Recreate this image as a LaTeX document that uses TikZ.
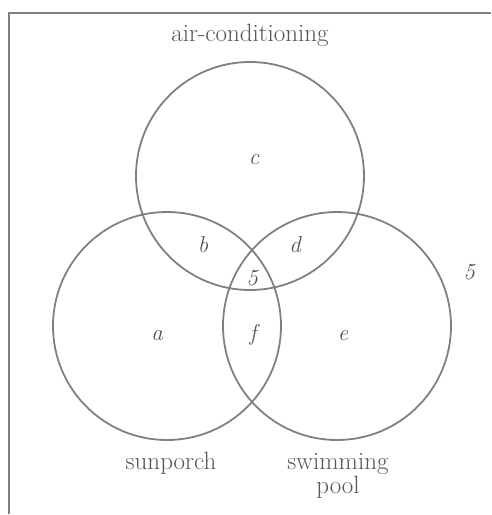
\documentclass[tikz,border=0pt]{standalone}
\usepackage{xcolor}
\usepackage{tikz}
\usetikzlibrary{positioning}

\definecolor{venngray}{RGB}{128,128,128}
\definecolor{textgray}{RGB}{85,85,85}

\begin{document}
\begin{tikzpicture}[
    x=1pt, y=-1pt,
    set/.style = {
        circle, draw=venngray, line width=1.8pt, minimum size=228pt, inner sep=0pt
    },
    region/.style = {
        font=\fontsize{23}{27}\selectfont\itshape, text=textgray, inner sep=1pt
    },
    setname/.style = {
        font=\fontsize{25}{29}\selectfont, text=textgray, align=center, inner sep=1pt
    }
]
\useasboundingbox (0,0) rectangle (491,515);

% Frame ── only top and left edges show
\draw[venngray, line width=1.8pt] (9,514) -- (9,13) -- (491,13);

% The three sets
\node[set] (aircon)   at (250,176) {};
\node[set] (sunporch) at (167,326) {};
\node[set] (pool)     at (337,326) {};

% Set names
\node[setname] (acname)   at (250,35)  {air-conditioning};
\node[setname] (spname)   at (171,463) {sunporch};
\node[setname] (poolname) at (338,476) {swimming\\[-5pt]pool};

% Regions
\node[region] (c)   at (254,160) {c};
\node[region] (b)   at (203,245) {b};
\node[region] (d)   at (295,245) {d};
\node[region] (all) at (252,278) {5};
\node[region] (a)   at (157,336) {a};
\node[region] (f)   at (253,335) {f};
\node[region] (e)   at (343,336) {e};
\node[region] (out) at (469,272) {5};

\end{tikzpicture}
\end{document}
